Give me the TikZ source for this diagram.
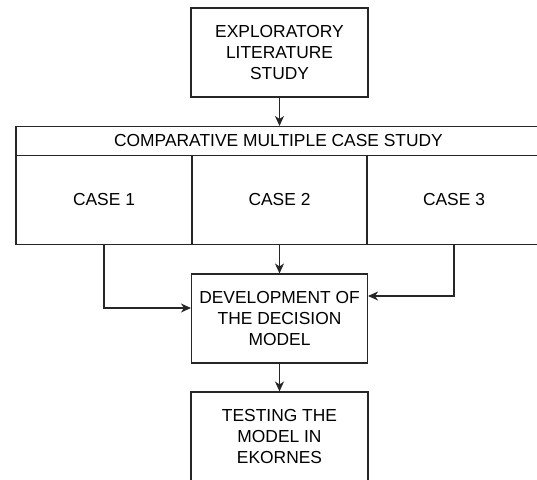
\documentclass[tikz,border=0pt]{standalone}
\usepackage{fontspec}
\setmainfont{Liberation Sans}
\usetikzlibrary{arrows.meta}

\tikzset{
  box/.style={draw=black!85, line width=1.1pt, rectangle, align=center,
    inner sep=0pt, font=\fontsize{17.4}{20.8}\selectfont, text=black},
  flow/.style={draw=black!85, line width=1.1pt,
    -{Stealth[length=10pt, width=9pt, inset=3pt]}},
}

\begin{document}
\begin{tikzpicture}[x=1pt, y=-1pt]
  \useasboundingbox (0,0) rectangle (537,479);
  \clip (0,0) rectangle (537,479);

  % first stage
  \node[box, minimum width=177pt, minimum height=89pt] (explore) at (279.5,52.5)
    {EXPLORATORY\\LITERATURE\\STUDY};

  % multiple case study block: title strip and three cases
  \node[box, minimum width=525pt, minimum height=29pt] (compare) at (278.5,141)
    {COMPARATIVE MULTIPLE CASE STUDY};
  \node[box, minimum width=176pt, minimum height=89pt] (case1) at (104,200) {CASE 1};
  \node[box, minimum width=175pt, minimum height=89pt] (case2) at (279.5,200) {CASE 2};
  \node[box, minimum width=174pt, minimum height=89pt] (case3) at (454,200) {CASE 3};

  % model development and test
  \node[box, minimum width=176pt, minimum height=89pt] (develop) at (279.5,318.5)
    {DEVELOPMENT OF\\THE DECISION\\MODEL};
  \node[box, minimum width=177pt, minimum height=89pt] (test) at (279.5,436.5)
    {TESTING THE\\MODEL IN\\EKORNES};

  % connectors
  \draw[flow] (explore.south) -- (compare.north -| explore.south);
  \draw[flow] (case2.south) -- (develop.north);
  \draw[flow] (case1.south) |- ([yshift=10.5pt]develop.west);
  \draw[flow] (case3.south) |- ([yshift=22.5pt]develop.east);
  \draw[flow] (develop.south) -- (test.north);
\end{tikzpicture}
\end{document}
